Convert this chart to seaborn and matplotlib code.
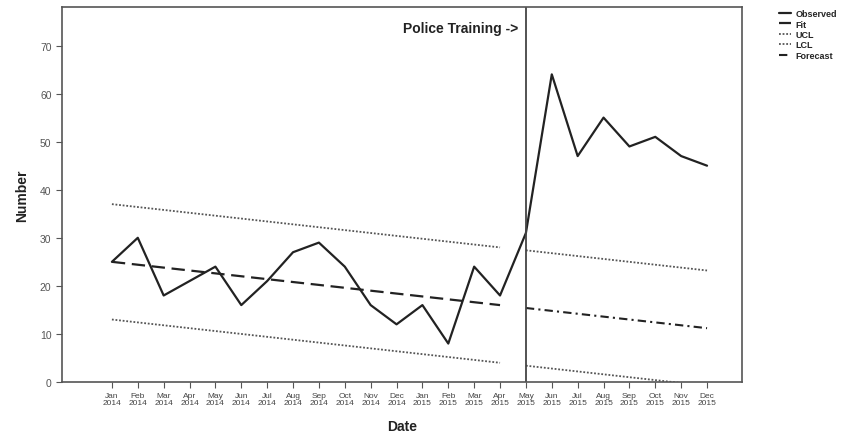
import numpy as np
import pandas as pd
import seaborn as sns
import matplotlib.pyplot as plt

months = ["Jan", "Feb", "Mar", "Apr", "May", "Jun", "Jul", "Aug", "Sep", "Oct", "Nov", "Dec"]
tick_labels = [m + "\n2014" for m in months] + [m + "\n2015" for m in months]

observed = [25, 30, 18, 21, 24, 16, 21, 27, 29, 24, 16, 12,
            16, 8, 24, 18, 31, 64, 47, 55, 49, 51, 47, 45]

# pre-intervention model (Jan 2014 - Apr 2015)
fit = [25.0, 24.4, 23.8, 23.2, 22.6, 22.0, 21.4, 20.8, 20.2, 19.6, 19.0, 18.4, 17.8, 17.2, 16.6, 16.0]
ucl = [37.0, 36.4, 35.8, 35.2, 34.6, 34.0, 33.4, 32.8, 32.2, 31.6, 31.0, 30.4, 29.8, 29.2, 28.6, 28.0]
lcl = [13.0, 12.4, 11.8, 11.2, 10.6, 10.0, 9.4, 8.8, 8.2, 7.6, 7.0, 6.4, 5.8, 5.2, 4.6, 4.0]

# forecast after police training (May 2015 - Dec 2015)
forecast = [15.4, 14.8, 14.2, 13.6, 13.0, 12.4, 11.8, 11.2]
ucl_fc = [27.4, 26.8, 26.2, 25.6, 25.0, 24.4, 23.8, 23.2]
lcl_fc = [3.4, 2.8, 2.2, 1.6, 1.0, 0.4, -0.2, -0.8]

sns.set_style("white")
plt.rcParams["font.family"] = ["Liberation Sans", "DejaVu Sans"]

x_all = np.arange(len(observed))
x_pre = np.arange(len(fit))
x_post = np.arange(len(fit), len(fit) + len(forecast))

fig = plt.figure(figsize=(8.42, 4.35), dpi=100)
ax = fig.add_axes([0.0736, 0.1195, 0.8076, 0.862])

line_col = "#222222"
dot_col = "#555555"

sns.lineplot(x=x_all, y=observed, ax=ax, color=line_col, lw=1.6, label="Observed")
sns.lineplot(x=x_pre, y=fit, ax=ax, color=line_col, lw=1.6, linestyle=(0, (6, 3)), label="Fit")
sns.lineplot(x=x_pre, y=ucl, ax=ax, color=dot_col, lw=1.3, linestyle=(0, (1, 1)), label="UCL")
sns.lineplot(x=x_pre, y=lcl, ax=ax, color=dot_col, lw=1.3, linestyle=(0, (1, 1)), label="LCL")
sns.lineplot(x=x_post, y=forecast, ax=ax, color=line_col, lw=1.5, linestyle=(0, (4, 2, 1, 2)), label="Forecast")
sns.lineplot(x=x_post, y=ucl_fc, ax=ax, color=dot_col, lw=1.3, linestyle=(0, (1, 1)), legend=False)
sns.lineplot(x=x_post, y=lcl_fc, ax=ax, color=dot_col, lw=1.3, linestyle=(0, (1, 1)), legend=False)

ax.axvline(len(fit), color="#444444", lw=1.3)
ax.text(len(fit) - 0.3, 73.6, "Police Training ->", ha="right", va="center",
        fontsize=10, fontweight="bold", color="#222222")

ax.set_xlim(-1.93, 24.35)
ax.set_ylim(0, 78)
ax.set_xticks(x_all)
ax.set_xticklabels(tick_labels, fontsize=6, color="#444444", linespacing=0.95)
ax.set_yticks(range(0, 71, 10))
ax.tick_params(axis="y", labelsize=7.5, labelcolor="#555555", length=4, color="#555555", left=True)
ax.tick_params(axis="x", length=4, color="#555555", bottom=True)
for s in ax.spines.values():
    s.set_color("#555555")
    s.set_linewidth(1.2)

ax.set_xlabel("Date", fontsize=10, fontweight="bold", color="#222222", labelpad=9)
ax.set_ylabel("Number", fontsize=10, fontweight="bold", color="#222222", labelpad=8)

handles, labels = ax.get_legend_handles_labels()
ax.legend_.remove()
fig.legend(handles, labels, loc="upper left", bbox_to_anchor=(0.915, 0.995), frameon=False,
           handlelength=1.4, handletextpad=0.5, labelspacing=0.15,
           prop={"weight": "bold", "size": 6.5})

plt.savefig("out.png", dpi=100)
